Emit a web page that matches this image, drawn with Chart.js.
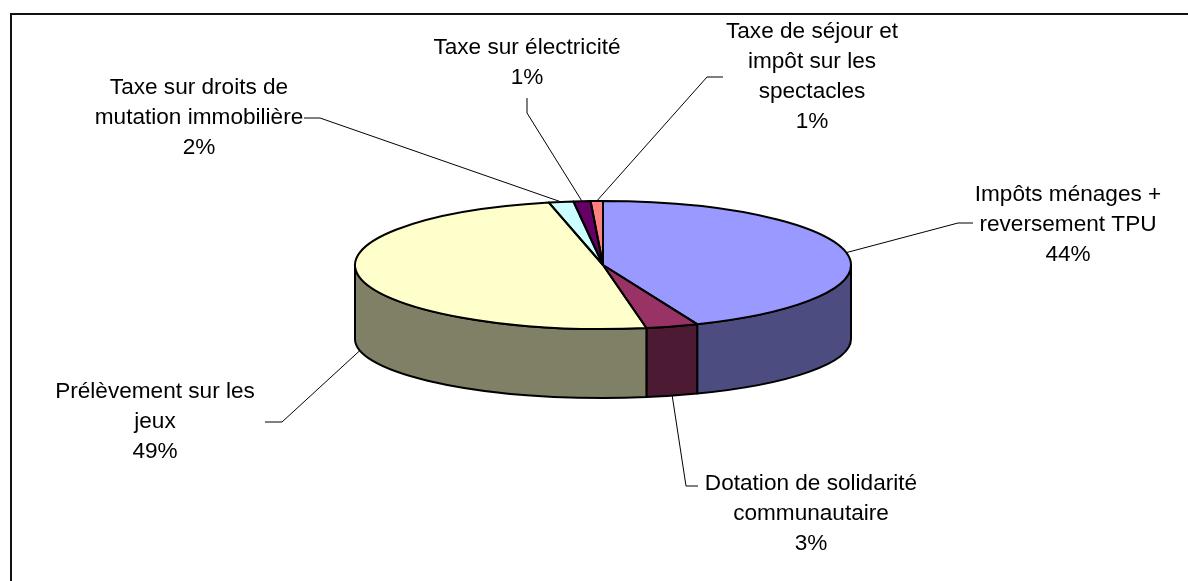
<!DOCTYPE html>
<html>
<head>
<meta charset="utf-8">
<script src="https://cdn.jsdelivr.net/npm/chart.js@4.4.1/dist/chart.umd.min.js"></script>
<style>
html, body { margin: 0; padding: 0; background: #fff; overflow: hidden; }
#wrap { position: relative; width: 1188px; height: 581px; overflow: hidden; }
#frame { position: absolute; left: 10px; top: 13px; width: 1220px; height: 620px; border: 2px solid #111; box-sizing: border-box; }
canvas { position: absolute; left: 0; top: 0; }
</style>
</head>
<body>
<div id="wrap">
  <div id="frame"></div>
  <canvas id="pie" width="1188" height="581"></canvas>
</div>
<script>
// ---- data ----
const categories = [
    ['Impôts ménages +', 'reversement TPU'],
    ['Dotation de solidarité', 'communautaire'],
    ['Prélèvement sur les', 'jeux'],
    ['Taxe sur droits de', 'mutation immobilière'],
    ['Taxe sur électricité'],
    ['Taxe de séjour et', 'impôt sur les', 'spectacles']
];
const shares = [43.8, 3.4, 49.3, 1.6, 1.1, 0.8];

const topColors  = ['#9999FF', '#993366', '#FFFFCC', '#CCFFFF', '#660066', '#FF8080'];
const sideColors = ['#4C4C80', '#4D1A33', '#808066', '#668080', '#330033', '#804040'];

// label layout: text centre x, first line y, leader elbow and leader end near the text
const labelPos = [
    { x: 1068, y: 195, elbow: [958, 223], end: [973, 223] },
    { x: 811,  y: 484, elbow: [686, 486], end: [698, 486] },
    { x: 155,  y: 392, elbow: [282, 422], end: [265, 422] },
    { x: 199,  y: 88,  elbow: [320, 118], end: [304, 118] },
    { x: 527,  y: 48,  elbow: [527, 113], end: [527, 98] },
    { x: 812,  y: 32,  elbow: [707, 77],  end: [723, 77] }
];

const FLAT = 64 / 248;         // squash of the top face
const DEPTH = 74;              // wall height
const BOTTOM_FLAT = 59 / 248;  // bottom rim is a bit flatter (perspective)
const LINE_H = 30;

// ==== 3D look: walls below, squashed top, outlines, labels ====
const pie3d = {
    id: 'pie3d',
    beforeDatasetsDraw(chart) {
        const ctx = chart.ctx, arcs = chart.getDatasetMeta(0).data;
        const { x: cx, y: cy, outerRadius: r } = arcs[0];
        ctx.save();
        ctx.lineWidth = 2; ctx.strokeStyle = '#000'; ctx.lineJoin = 'round';
        arcs.forEach((a, i) => {
            // only the front half (0..PI) shows a wall
            const s = Math.max(a.startAngle, 0), e = Math.min(a.endAngle, Math.PI);
            if (e <= s) return;
            ctx.beginPath();
            ctx.ellipse(cx, cy, r, r * FLAT, 0, s, e);
            ctx.ellipse(cx, cy + DEPTH, r, r * BOTTOM_FLAT, 0, e, s, true);
            ctx.closePath();
            ctx.fillStyle = sideColors[i];
            ctx.fill(); ctx.stroke();
        });
        ctx.restore();
        // squash the pie the library draws next
        ctx.save();
        ctx.translate(cx, cy); ctx.scale(1, FLAT); ctx.translate(-cx, -cy);
    },
    afterDatasetsDraw(chart) {
        const ctx = chart.ctx, arcs = chart.getDatasetMeta(0).data;
        ctx.restore();
        const { x: cx, y: cy, outerRadius: r } = arcs[0];
        ctx.save();
        ctx.lineWidth = 2; ctx.strokeStyle = '#000'; ctx.lineJoin = 'round';
        arcs.forEach(a => {
            ctx.beginPath(); ctx.moveTo(cx, cy);
            ctx.ellipse(cx, cy, r, r * FLAT, 0, a.startAngle, a.endAngle);
            ctx.closePath(); ctx.stroke();
        });
        ctx.restore();
    },
    afterDraw(chart) {
        const ctx = chart.ctx, arcs = chart.getDatasetMeta(0).data;
        const { x: cx, y: cy, outerRadius: r } = arcs[0];
        const total = shares.reduce((t, v) => t + v, 0);
        ctx.save();
        arcs.forEach((a, i) => {
            const mid = (a.startAngle + a.endAngle) / 2;
            const front = Math.sin(mid) > 0;
            const px = cx + r * Math.cos(mid);
            const py = front ? cy + DEPTH + r * BOTTOM_FLAT * Math.sin(mid) : cy + r * FLAT * Math.sin(mid);
            const L = labelPos[i];
            ctx.beginPath();
            ctx.moveTo(px, py); ctx.lineTo(L.elbow[0], L.elbow[1]); ctx.lineTo(L.end[0], L.end[1]);
            ctx.strokeStyle = '#000'; ctx.lineWidth = 1; ctx.stroke();

            const lines = [...categories[i], Math.round(shares[i] / total * 100) + '%'];
            ctx.fillStyle = '#000';
            ctx.font = '22.6px "Liberation Sans", Arial, sans-serif';
            ctx.textAlign = 'center'; ctx.textBaseline = 'middle';
            lines.forEach((t, k) => ctx.fillText(t, L.x, L.y + k * LINE_H));
        });
        ctx.restore();
    }
};

new Chart(document.getElementById('pie'), {
    type: 'pie',
    data: {
        labels: categories,
        datasets: [{ data: shares, backgroundColor: topColors, borderWidth: 0, radius: 248, clip: false }]
    },
    options: {
        responsive: false, animation: false, events: [],
        layout: { padding: { left: 303, right: 285, top: 17, bottom: 68 } },
        plugins: { legend: { display: false }, tooltip: { enabled: false } }
    },
    plugins: [pie3d]
});
</script>
</body>
</html>
